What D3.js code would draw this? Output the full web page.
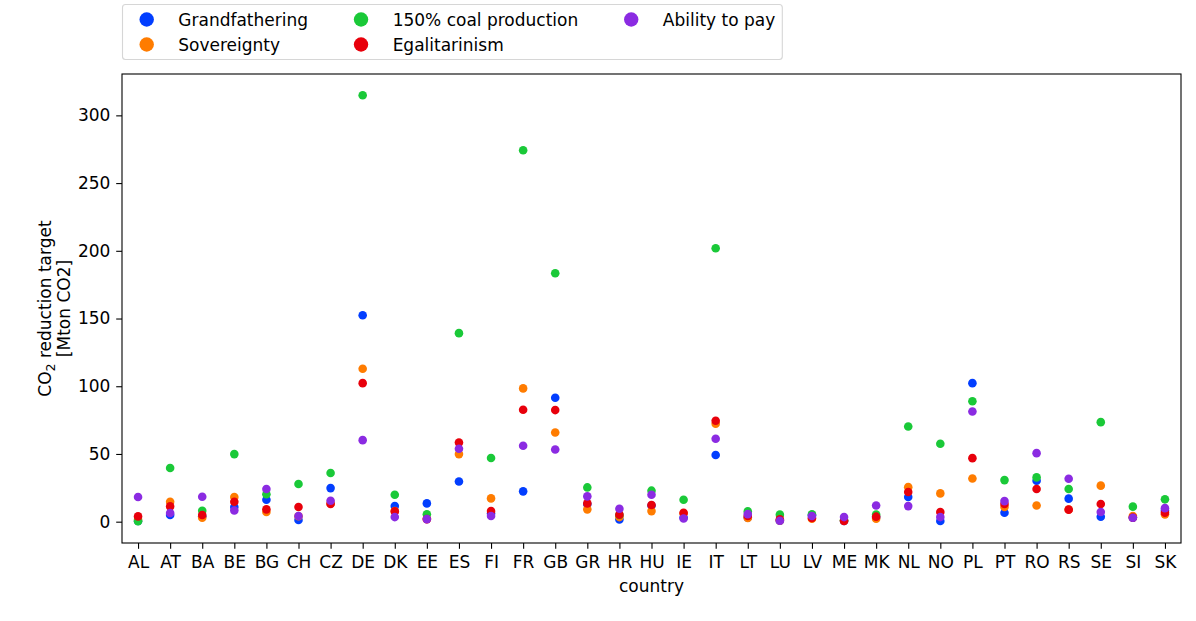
<!DOCTYPE html>
<html>
<head>
<meta charset="utf-8">
<script src="https://cdn.jsdelivr.net/npm/d3@7"></script>
<style>
    html, body { margin: 0; padding: 0; background: #fff; }
    #chart { width: 1196px; height: 621px; }
    svg { font-family: "DejaVu Sans", sans-serif; }
    .axis path, .axis line { stroke: #000; stroke-width: 1.1; }
</style>
</head>
<body>
<div id="chart"></div>
<script>
const countries = ["AL", "AT", "BA", "BE", "BG", "CH", "CZ", "DE", "DK", "EE", "ES", "FI", "FR", "GB", "GR", "HR", "HU",
    "IE", "IT", "LT", "LU", "LV", "ME", "MK", "NL", "NO", "PL", "PT", "RO", "RS", "SE", "SI", "SK"];

const grandfathering = [0.5, 4.9, 4.0, 10.8, 16.2, 1.2, 24.8, 152.4, 11.5, 13.5, 29.7, 6.0, 22.4, 91.5, 13.0, 1.7, 12.0,
    3.0, 49.2, 3.0, 0.7, 4.8, 0.5, 3.5, 18.2, 0.5, 102.3, 6.6, 30.2, 17.0, 3.7, 3.0, 8.1];
const sovereignty = [1.5, 14.7, 2.9, 18.2, 7.1, 4.0, 13.5, 112.9, 7.8, 2.0, 49.9, 17.2, 98.4, 65.9, 9.1, 3.4, 7.8,
    6.0, 72.3, 2.7, 0.8, 2.2, 0.8, 2.2, 25.5, 20.9, 31.9, 10.8, 12.0, 9.0, 26.6, 4.2, 5.4];
const coal150 = [0.3, 39.6, 8.1, 49.9, 20.2, 27.8, 35.9, 314.8, 19.9, 5.4, 139.2, 47.0, 274.2, 183.4, 25.3, 5.0, 22.9,
    16.2, 201.9, 7.6, 5.2, 5.4, 1.0, 5.2, 70.3, 57.5, 88.9, 30.7, 32.7, 24.1, 73.5, 11.1, 16.5];
const egalitarianism = [3.9, 11.3, 4.9, 14.7, 9.1, 10.8, 13.0, 102.3, 7.6, 1.9, 58.4, 7.8, 82.6, 82.4, 13.5, 5.2, 12.3,
    6.6, 74.5, 4.2, 1.7, 2.7, 0.5, 3.7, 21.9, 7.1, 46.9, 13.0, 24.1, 8.9, 13.0, 3.0, 6.6];
const abilityToPay = [18.2, 6.4, 18.4, 8.3, 24.1, 4.2, 15.5, 60.2, 3.4, 1.9, 53.8, 4.2, 56.1, 53.3, 18.7, 9.6, 19.9,
    2.4, 61.2, 5.6, 0.7, 4.2, 3.4, 12.0, 11.5, 3.4, 81.4, 15.2, 50.6, 31.7, 7.1, 2.9, 10.0];

const seriesNames = ["Grandfathering", "Sovereignty", "150% coal production", "Egalitarinism", "Ability to pay"];
const seriesColors = ["#023eff", "#ff7c00", "#1ac938", "#e8000b", "#8b2be2"];
const yTicks = [0, 50, 100, 150, 200, 250, 300];

(function () {
    "use strict";

    const FONT = "DejaVu Sans";
    const FONT_SIZE = 17;

    function getSeries() {
        const values = [grandfathering, sovereignty, coal150, egalitarianism, abilityToPay];
        return seriesNames.map((name, i) => ({
            name: name,
            color: seriesColors[i],
            data: countries.map((c, j) => ({ x: c, y: values[i][j] }))
        }));
    }

    function drawLegend(svg, series) {
        const legend = svg.append("g").attr("class", "legend");
        const box = legend.append("rect")
            .attr("x", 122.5)
            .attr("y", 4.5)
            .attr("height", 55)
            .attr("rx", 3)
            .attr("fill", "#fff")
            .attr("fill-opacity", 0.8)
            .attr("stroke", "#d6d6d6")
            .attr("stroke-width", 1.1);

        const rows = 2;
        const rowY = [19.5, 44.5];
        let markerX = 146.7;
        let textEnd = 0;

        series.forEach((entry, i) => {
            const col = Math.floor(i / rows);
            const row = i % rows;
            if (row === 0 && col > 0) {
                markerX = textEnd + 53;
                textEnd = 0;
            }
            legend.append("circle")
                .attr("cx", markerX)
                .attr("cy", rowY[row])
                .attr("r", 7.2)
                .attr("fill", entry.color);
            const label = legend.append("text")
                .attr("x", markerX + 31.6)
                .attr("y", rowY[row])
                .attr("dy", "0.36em")
                .attr("font-family", FONT)
                .attr("font-size", FONT_SIZE)
                .text(entry.name);
            textEnd = Math.max(textEnd, markerX + 31.6 + label.node().getComputedTextLength());
        });

        box.attr("width", textEnd + 7 - 122.5);
    }

    function drawChart(selection) {
        const margin = { top: 74, right: 15, bottom: 78, left: 122 };
        const width = 1196;
        const height = 621;

        const svg = selection.append("svg")
            .attr("width", width)
            .attr("height", height);

        const plotWidth = width - margin.left - margin.right;
        const plotHeight = height - margin.top - margin.bottom;

        const canvas = svg.append("g")
            .attr("transform", `translate(${margin.left},${margin.top})`);

        const series = getSeries();

        const xScale = d3.scalePoint()
            .domain(countries)
            .range([0, plotWidth])
            .padding(0.5);

        const yMax = d3.max(series, s => d3.max(s.data, d => d.y));
        const pad = yMax * 0.05;
        const yScale = d3.scaleLinear()
            .domain([-pad, yMax + pad])
            .range([plotHeight, 0]);

        const xAxisGroup = canvas.append("g")
            .attr("class", "axis x-axis")
            .attr("transform", `translate(0,${plotHeight})`)
            .call(d3.axisBottom(xScale).tickSizeInner(5.8).tickSizeOuter(0).tickPadding(5.8))
            .attr("font-family", FONT)
            .attr("font-size", FONT_SIZE);
        xAxisGroup.select(".domain").remove();
        xAxisGroup.selectAll(".tick text").attr("dy", "0.76em").attr("fill", "#000");

        xAxisGroup.append("text")
            .attr("x", plotWidth / 2)
            .attr("y", 49)
            .attr("text-anchor", "middle")
            .attr("fill", "#000")
            .text("country");

        const yAxisGroup = canvas.append("g")
            .attr("class", "axis y-axis")
            .call(d3.axisLeft(yScale).tickValues(yTicks).tickSizeInner(5.8).tickSizeOuter(0).tickPadding(5.8))
            .attr("font-family", FONT)
            .attr("font-size", FONT_SIZE);
        yAxisGroup.select(".domain").remove();
        yAxisGroup.selectAll(".tick text").attr("fill", "#000");

        const yLabel = svg.append("text")
            .attr("transform", `translate(51,${margin.top + plotHeight / 2}) rotate(-90)`)
            .attr("text-anchor", "middle")
            .attr("font-family", FONT)
            .attr("font-size", FONT_SIZE);
        const line1 = yLabel.append("tspan").attr("x", 0).attr("y", 0);
        line1.append("tspan").text("CO");
        line1.append("tspan").attr("dy", 4).attr("font-size", 12.5).text("2");
        line1.append("tspan").attr("dy", -4).text(" reduction target");
        yLabel.append("tspan").attr("x", 0).attr("y", 19).text("[Mton CO2]");

        const dots = canvas.append("g").attr("class", "series");
        for (const entry of series) {
            dots.append("g")
                .selectAll("circle")
                .data(entry.data)
                .enter()
                .append("circle")
                .attr("cx", d => xScale(d.x))
                .attr("cy", d => yScale(d.y))
                .attr("r", 4.3)
                .attr("fill", entry.color);
        }

        canvas.append("rect")
            .attr("width", plotWidth)
            .attr("height", plotHeight)
            .attr("fill", "none")
            .attr("stroke", "#000")
            .attr("stroke-width", 1.1);

        drawLegend(svg, series);
    }

    d3.select("#chart").call(drawChart);
}());
</script>
</body>
</html>
